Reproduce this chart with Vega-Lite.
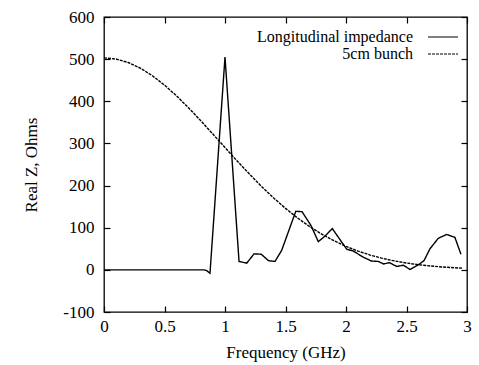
{
  "$schema": "https://vega.github.io/schema/vega-lite/v6.json",
  "width": 363,
  "height": 295,
  "autosize": {"type": "none"},
  "padding": {"left": 104, "top": 17, "right": 12, "bottom": 53},
  "background": "white",
  "config": {
    "font": "Liberation Serif",
    "view": {"stroke": "black", "strokeWidth": 1.3},
    "axis": {
      "domain": false,
      "grid": false,
      "tickColor": "black",
      "tickSize": -6,
      "tickWidth": 1.2,
      "labelColor": "black",
      "labelFontSize": 17,
      "titleColor": "black",
      "titleFontSize": 17,
      "titleFontWeight": "normal"
    }
  },
  "datasets": {
    "curves": [
      {"series": "Longitudinal impedance", "f": 0, "z": 0},
      {"series": "Longitudinal impedance", "f": 0.5, "z": 0},
      {"series": "Longitudinal impedance", "f": 0.83, "z": 0},
      {"series": "Longitudinal impedance", "f": 0.85, "z": -2},
      {"series": "Longitudinal impedance", "f": 0.876, "z": -8},
      {"series": "Longitudinal impedance", "f": 1.0, "z": 505},
      {"series": "Longitudinal impedance", "f": 1.116, "z": 20},
      {"series": "Longitudinal impedance", "f": 1.18, "z": 16},
      {"series": "Longitudinal impedance", "f": 1.24, "z": 38},
      {"series": "Longitudinal impedance", "f": 1.3, "z": 37},
      {"series": "Longitudinal impedance", "f": 1.358, "z": 22},
      {"series": "Longitudinal impedance", "f": 1.413, "z": 20},
      {"series": "Longitudinal impedance", "f": 1.468, "z": 46},
      {"series": "Longitudinal impedance", "f": 1.585, "z": 139},
      {"series": "Longitudinal impedance", "f": 1.637, "z": 138},
      {"series": "Longitudinal impedance", "f": 1.711, "z": 105},
      {"series": "Longitudinal impedance", "f": 1.771, "z": 67},
      {"series": "Longitudinal impedance", "f": 1.826, "z": 80},
      {"series": "Longitudinal impedance", "f": 1.887, "z": 98},
      {"series": "Longitudinal impedance", "f": 1.945, "z": 74},
      {"series": "Longitudinal impedance", "f": 2.006, "z": 49},
      {"series": "Longitudinal impedance", "f": 2.058, "z": 45},
      {"series": "Longitudinal impedance", "f": 2.143, "z": 30},
      {"series": "Longitudinal impedance", "f": 2.21, "z": 21},
      {"series": "Longitudinal impedance", "f": 2.267, "z": 20},
      {"series": "Longitudinal impedance", "f": 2.309, "z": 14},
      {"series": "Longitudinal impedance", "f": 2.36, "z": 17},
      {"series": "Longitudinal impedance", "f": 2.42, "z": 8},
      {"series": "Longitudinal impedance", "f": 2.474, "z": 11},
      {"series": "Longitudinal impedance", "f": 2.529, "z": 1},
      {"series": "Longitudinal impedance", "f": 2.598, "z": 12},
      {"series": "Longitudinal impedance", "f": 2.645, "z": 22},
      {"series": "Longitudinal impedance", "f": 2.694, "z": 50},
      {"series": "Longitudinal impedance", "f": 2.763, "z": 75},
      {"series": "Longitudinal impedance", "f": 2.832, "z": 84},
      {"series": "Longitudinal impedance", "f": 2.9, "z": 77},
      {"series": "Longitudinal impedance", "f": 2.95, "z": 37},
      {"series": "5cm bunch", "f": 0, "z": 503},
      {"series": "5cm bunch", "f": 0.1, "z": 500.2},
      {"series": "5cm bunch", "f": 0.2, "z": 492},
      {"series": "5cm bunch", "f": 0.3, "z": 478.7},
      {"series": "5cm bunch", "f": 0.4, "z": 460.6},
      {"series": "5cm bunch", "f": 0.5, "z": 438.4},
      {"series": "5cm bunch", "f": 0.6, "z": 412.7},
      {"series": "5cm bunch", "f": 0.7, "z": 384.2},
      {"series": "5cm bunch", "f": 0.8, "z": 353.8},
      {"series": "5cm bunch", "f": 0.9, "z": 322.2},
      {"series": "5cm bunch", "f": 1.0, "z": 290.2},
      {"series": "5cm bunch", "f": 1.1, "z": 258.5},
      {"series": "5cm bunch", "f": 1.2, "z": 227.9},
      {"series": "5cm bunch", "f": 1.3, "z": 198.5},
      {"series": "5cm bunch", "f": 1.4, "z": 171.1},
      {"series": "5cm bunch", "f": 1.5, "z": 145.9},
      {"series": "5cm bunch", "f": 1.6, "z": 123.0},
      {"series": "5cm bunch", "f": 1.7, "z": 102.6},
      {"series": "5cm bunch", "f": 1.8, "z": 84.7},
      {"series": "5cm bunch", "f": 1.9, "z": 69.1},
      {"series": "5cm bunch", "f": 2.0, "z": 55.7},
      {"series": "5cm bunch", "f": 2.1, "z": 44.5},
      {"series": "5cm bunch", "f": 2.2, "z": 35.1},
      {"series": "5cm bunch", "f": 2.3, "z": 27.4},
      {"series": "5cm bunch", "f": 2.4, "z": 21.2},
      {"series": "5cm bunch", "f": 2.5, "z": 16.2},
      {"series": "5cm bunch", "f": 2.6, "z": 12.2},
      {"series": "5cm bunch", "f": 2.7, "z": 9.1},
      {"series": "5cm bunch", "f": 2.8, "z": 6.7},
      {"series": "5cm bunch", "f": 2.9, "z": 4.9},
      {"series": "5cm bunch", "f": 2.96, "z": 4.0}
    ]
  },
  "resolve": {"axis": {"x": "independent", "y": "independent"}},
  "layer": [
    {
      "mark": {"type": "rule", "color": "black", "strokeWidth": 1, "strokeDash": [1, 2]},
      "encoding": {
        "y": {"datum": 0, "type": "quantitative", "scale": {"domain": [-100, 600]},
          "axis": {"orient": "right", "labels": false, "title": null, "values": [-100, 0, 100, 200, 300, 400, 500, 600]}}
      }
    },
    {
      "data": {"name": "curves"},
      "mark": {"type": "line", "color": "black", "strokeWidth": 1.4, "clip": true},
      "encoding": {
        "x": {"field": "f", "type": "quantitative", "scale": {"domain": [0, 3], "nice": false},
          "axis": {"title": "Frequency (GHz)", "format": "~g", "values": [0, 0.5, 1, 1.5, 2, 2.5, 3], "labelPadding": 12, "titlePadding": 10, "labelFlush": false}},
        "y": {"field": "z", "type": "quantitative", "scale": {"domain": [-100, 600], "nice": false},
          "axis": {"title": "Real Z,  Ohms", "values": [-100, 0, 100, 200, 300, 400, 500, 600],
            "labelExpr": "datum.value < 0 ? '-' + abs(datum.value) : '' + datum.value",
            "labelPadding": 16, "titlePadding": 22}},
        "strokeDash": {"field": "series", "type": "nominal",
          "scale": {"domain": ["Longitudinal impedance", "5cm bunch"], "range": [[1, 0], [3, 1]]},
          "legend": {"orient": "none", "legendX": 331, "legendY": 12, "title": null, "padding": 0,
            "symbolType": "M-2.12,0H2.12", "symbolSize": 200, "symbolStrokeWidth": 1.2, "symbolStrokeColor": "black", "symbolFillColor": "transparent",
            "labelAlign": "right", "labelOffset": -38, "labelFontSize": 16, "labelColor": "black", "rowPadding": 1, "labelLimit": 300}}
      }
    },
    {
      "data": {"name": "curves"},
      "mark": {"type": "point", "opacity": 0},
      "encoding": {
        "x": {"field": "f", "type": "quantitative", "scale": {"domain": [0, 3], "nice": false},
          "axis": {"orient": "top", "labels": false, "title": null, "values": [0, 0.5, 1, 1.5, 2, 2.5, 3]}}
      }
    }
  ]
}
